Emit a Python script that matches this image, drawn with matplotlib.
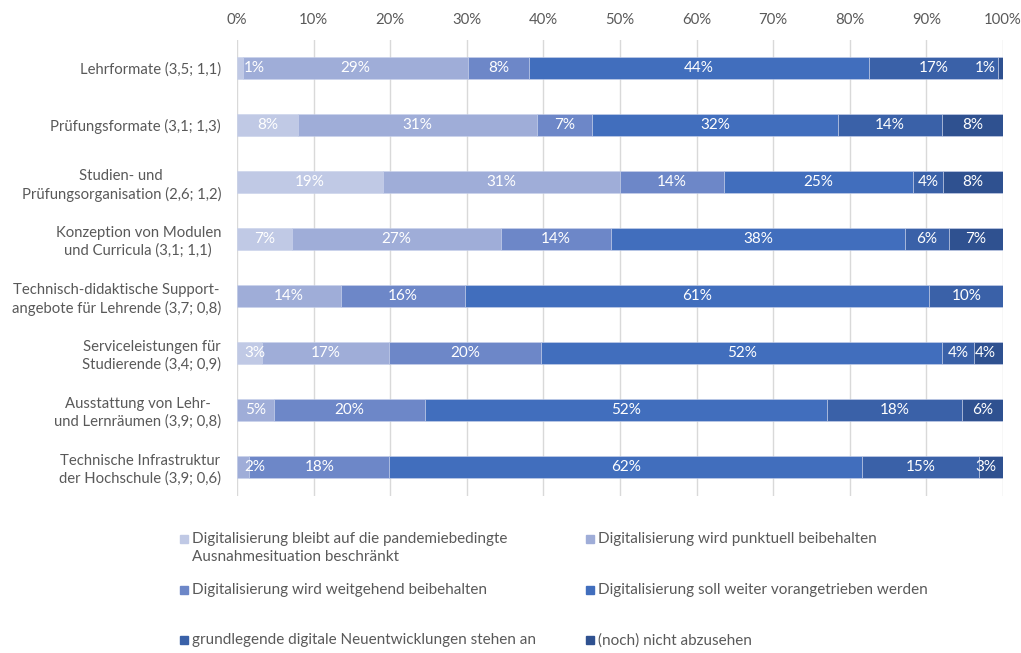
import matplotlib.pyplot as plt
import numpy as np
from matplotlib.patches import Rectangle

categories = ["Lehrformate (3,5; 1,1)",
              "Prüfungsformate (3,1; 1,3)",
              "Studien- und\nPrüfungsorganisation (2,6; 1,2)",
              "Konzeption von Modulen\nund Curricula (3,1; 1,1)",
              "Technisch-didaktische Support-\nangebote für Lehrende (3,7; 0,8)",
              "Serviceleistungen für\nStudierende (3,4; 0,9)",
              "Ausstattung von Lehr-\nund Lernräumen (3,9; 0,8)",
              "Technische Infrastruktur\nder Hochschule (3,9; 0,6)"]

series = ["Digitalisierung bleibt auf die pandemiebedingte\nAusnahmesituation beschränkt",
          "Digitalisierung wird punktuell beibehalten",
          "Digitalisierung wird weitgehend beibehalten",
          "Digitalisierung soll weiter vorangetrieben werden",
          "grundlegende digitale Neuentwicklungen stehen an",
          "(noch) nicht abzusehen"]

# shares (%) per series, one value per category
bleibt      = [0.8, 8.0, 19.0, 7.2, 0.0, 3.2, 0.0, 0.0]
punktuell   = [29.4, 31.2, 31.0, 27.2, 13.6, 16.7, 4.8, 1.6]
weitgehend  = [7.9, 7.2, 13.6, 14.4, 16.1, 19.8, 19.8, 18.3]
vorantreib  = [44.4, 32.0, 24.6, 38.4, 60.7, 52.4, 52.4, 61.7]
grundlegend = [16.8, 13.7, 4.0, 5.7, 9.6, 4.1, 17.7, 15.3]
nicht_abz   = [0.7, 7.9, 7.8, 7.1, 0.0, 3.8, 5.3, 3.1]

# printed labels
lab_bleibt      = ["1%", "8%", "19%", "7%", "", "3%", "", ""]
lab_punktuell   = ["29%", "31%", "31%", "27%", "14%", "17%", "5%", "2%"]
lab_weitgehend  = ["8%", "7%", "14%", "14%", "16%", "20%", "20%", "18%"]
lab_vorantreib  = ["44%", "32%", "25%", "38%", "61%", "52%", "52%", "62%"]
lab_grundlegend = ["17%", "14%", "4%", "6%", "10%", "4%", "18%", "15%"]
lab_nicht_abz   = ["1%", "8%", "8%", "7%", "", "4%", "6%", "3%"]

colors = ["#C0C9E5", "#9FADD8", "#6D87C8", "#416EBD", "#3A61A8", "#2F5190"]
values = [bleibt, punktuell, weitgehend, vorantreib, grundlegend, nicht_abz]
labels = [lab_bleibt, lab_punktuell, lab_weitgehend, lab_vorantreib, lab_grundlegend, lab_nicht_abz]

plt.rcParams['font.family'] = ['Lato', 'DejaVu Sans']
txt_col = "#595959"

fig = plt.figure(figsize=(10.21, 6.53), dpi=100)
ax = fig.add_axes([237 / 1021, 1 - 495.5 / 653, 766 / 1021, 456 / 653])

y = np.arange(len(categories))
left = np.zeros(len(categories))
for i in range(len(values)):
    v = np.array(values[i])
    ax.barh(y, v, left=left, height=0.40, color=colors[i], edgecolor="#C9D2EB",
            linewidth=0.4, zorder=3)
    for j in range(len(categories)):
        if labels[i][j]:
            xc = min(max(left[j] + v[j] / 2, 2.3), 97.7)
            ax.text(xc, y[j], labels[i][j], ha='center', va='center',
                    color='white', fontsize=11, zorder=4)
    left = left + v

ax.set_xlim(0, 100)
ax.set_ylim(len(categories) - 0.5, -0.5)
ax.set_xticks(np.arange(0, 101, 10))
ax.set_xticklabels([str(t) + "%" for t in range(0, 101, 10)])
ax.xaxis.tick_top()
ax.set_yticks(y)
ax.set_yticklabels(categories)
for t in ax.get_yticklabels():
    t.set_multialignment('center')
    t.set_linespacing(1.3)
ax.tick_params(axis='both', length=0, labelsize=10.7, colors=txt_col)
ax.tick_params(axis='y', pad=11.5)
ax.tick_params(axis='x', pad=9)
ax.grid(axis='x', color="#D9D9D9", linewidth=1, zorder=0)
for s in ax.spines.values():
    s.set_visible(False)

# legend drawn row by row
leg_x = [184, 590]
leg_y = [539, 590, 640]
for k in range(len(series)):
    col = k % 2
    row = k // 2
    px = leg_x[col]
    py = leg_y[row]
    fig.patches.append(Rectangle(((px - 4) / 1021, 1 - (py + 4) / 653), 8 / 1021, 8 / 653,
                                 transform=fig.transFigure, color=colors[k]))
    fig.text((px + 8) / 1021, 1 - (py - 7) / 653, series[k], ha='left', va='top',
             fontsize=11, color=txt_col, linespacing=1.4)

plt.savefig("out.png", dpi=100)
